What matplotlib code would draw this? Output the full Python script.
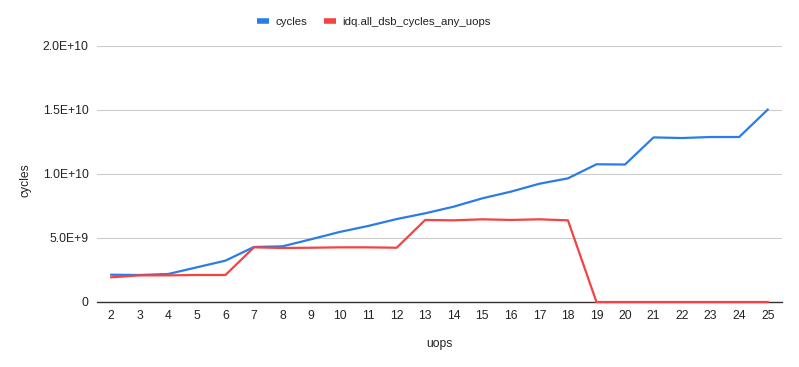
import matplotlib
matplotlib.use("Agg")
import matplotlib.pyplot as plt
from matplotlib.lines import Line2D

plt.rcParams['font.family'] = ['Liberation Sans', 'DejaVu Sans']

uops = list(range(2, 26))
cycles = [2.13e9, 2.11e9, 2.19e9, 2.71e9, 3.23e9, 4.30e9, 4.35e9, 4.90e9, 5.47e9, 5.94e9,
          6.48e9, 6.93e9, 7.45e9, 8.10e9, 8.62e9, 9.24e9, 9.66e9, 10.76e9, 10.74e9, 12.86e9,
          12.81e9, 12.89e9, 12.89e9, 15.03e9]
dsb_uops = [1.93e9, 2.08e9, 2.08e9, 2.11e9, 2.11e9, 4.27e9, 4.22e9, 4.24e9, 4.27e9, 4.27e9,
            4.24e9, 6.41e9, 6.38e9, 6.46e9, 6.41e9, 6.46e9, 6.38e9, 0, 0, 0,
            0, 0, 0, 0]
yticks = [0, 5e9, 1e10, 1.5e10, 2e10]
ylabels = ["0", "5.0E+9", "1.0E+10", "1.5E+10", "2.0E+10"]

blue = "#2a7de6"
red = "#f44343"

fig = plt.figure(figsize=(7.99, 3.67), dpi=100)
ax = fig.add_axes([97/799, 65/367, 685/799, 256/367])

ax.plot(uops, cycles, color=blue, linewidth=1.6, label="cycles", zorder=5, clip_on=False)
ax.plot(uops, dsb_uops, color=red, linewidth=1.6, label="idq.all_dsb_cycles_any_uops",
        zorder=5, clip_on=False)

ax.set_xlim(1.5, 25.5)
ax.set_ylim(0, 2e10)
ax.set_xticks(uops)
ax.set_yticks(yticks)
ax.set_yticklabels(ylabels)
ax.grid(axis="y", color="#cccccc", linewidth=0.8)
ax.set_axisbelow(True)
for s in ["top", "right", "left"]:
    ax.spines[s].set_visible(False)
ax.spines["bottom"].set_color("#333333")
ax.spines["bottom"].set_linewidth(1.0)
ax.spines["bottom"].set_zorder(2)
ax.tick_params(axis="both", length=0, labelsize=8.7, labelcolor="#222222")
ax.tick_params(axis="x", pad=6)
ax.tick_params(axis="y", pad=6)

ax.set_xlabel("uops", fontsize=8.7, color="#222222", labelpad=11)
ax.set_ylabel("cycles", fontsize=8.7, color="#222222")
ax.yaxis.set_label_coords(-0.096, 0.477)

handles = [Line2D([0], [0], color=blue, linewidth=4, solid_capstyle="butt"),
           Line2D([0], [0], color=red, linewidth=4, solid_capstyle="butt")]
fig.legend(handles, ["cycles", "idq.all_dsb_cycles_any_uops"], loc="center",
           bbox_to_anchor=(374/799, 1 - 22/367), ncol=2, frameon=False, fontsize=8.2,
           handlelength=1.0, handletextpad=0.6, columnspacing=1.5,
           labelcolor="#222222")

fig.savefig("out.png", dpi=100)
